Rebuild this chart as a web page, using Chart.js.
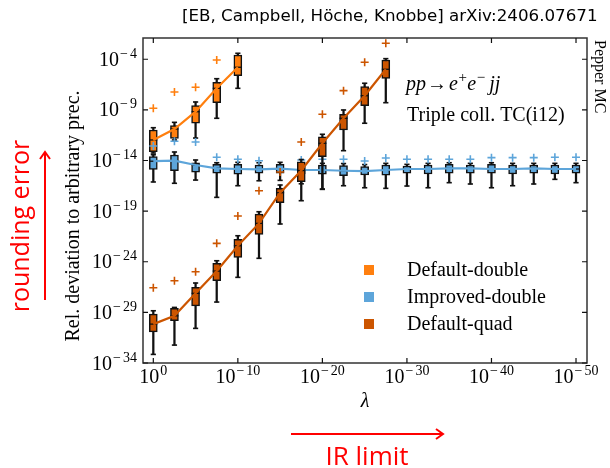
<!DOCTYPE html>
<html>
<head>
<meta charset="utf-8">
<script src="https://cdn.jsdelivr.net/npm/chart.js@4.4.0/dist/chart.umd.min.js"></script>
<style>
  html, body { margin: 0; padding: 0; background: #fff; }
</style>
</head>
<body>
<canvas id="c" width="610" height="468"></canvas>
<script>
// x positions: -log10(lambda), lambda = 10^0 ... 10^-50
const lambdaExp = [0, 2.5, 5, 7.5, 10, 12.5, 15, 17.5, 20, 22.5, 25, 27.5, 30, 32.5, 35, 37.5, 40, 42.5, 45, 47.5, 50];
const xTicks = [0, 10, 20, 30, 40, 50];
const yTicks = [-4, -9, -14, -19, -24, -29, -34];

const seriesNames = ["Default-double", "Improved-double", "Default-quad"];
const seriesColors = ["#ff7f0e", "#5da5da", "#cc5500"];

// all values are log10 of the relative deviation
const doubleMin = [-13.26, -11.97, -11.78, -9.83, -6.87];
const doubleQ1  = [-13.13, -11.81, -10.32, -8.29, -5.62];
const doubleMed = [-11.97, -10.89, -9.18, -6.87, -4.79];
const doubleQ3  = [-10.99, -10.56, -8.58, -6.27, -3.58];
const doubleMax = [-10.76, -10.23, -8.22, -5.92, -3.41];
const doubleOut = [-8.84, -7.23, -6.77, -4.07, null];

const improvedMin = [-16.12, -16.25, -15.93, -17.64, -16.49, -16.00, -15.96, -16.30, -16.82, -16.49, -16.69, -16.75, -16.52, -16.69, -16.19, -16.32, -16.69, -16.49, -16.32, -15.86, -16.19];
const improvedQ1  = [-14.87, -15.01, -15.14, -15.26, -15.36, -15.26, -15.26, -15.33, -15.36, -15.50, -15.43, -15.46, -15.26, -15.33, -15.26, -15.26, -15.26, -15.33, -15.26, -15.33, -15.26];
const improvedMed = [-14.07, -14.02, -14.44, -14.77, -14.84, -14.87, -14.81, -14.94, -14.94, -15.01, -15.04, -14.94, -14.84, -14.84, -14.77, -14.77, -14.84, -14.84, -14.77, -14.84, -14.84];
const improvedQ3  = [-13.62, -13.46, -14.22, -14.38, -14.38, -14.44, -14.38, -14.44, -14.44, -14.51, -14.61, -14.44, -14.54, -14.44, -14.38, -14.44, -14.38, -14.44, -14.44, -14.44, -14.44];
const improvedMax = [-13.43, -13.16, -13.95, -14.22, -14.18, -14.22, -14.18, -14.25, -14.28, -14.30, -14.40, -14.28, -14.38, -14.28, -14.22, -14.28, -14.22, -14.28, -14.28, -14.28, -14.28];
const improvedOut = [-12.57, -12.10, -12.17, -13.68, -13.88, -14.02, null, -13.95, -13.88, -13.88, -14.05, -13.75, -13.88, -13.88, -13.88, -13.88, -13.72, -13.72, -13.72, -13.68, -13.68];

const quadMin = [-33.15, -32.23, -30.58, -27.98, -25.54, -23.66, -20.27, -17.97, -16.85, -13.03, -10.32, -8.29];
const quadQ1  = [-30.92, -29.83, -28.35, -25.88, -23.57, -21.29, -18.17, -16.09, -13.62, -10.99, -8.58, -5.88];
const quadMed = [-30.16, -29.34, -27.12, -24.92, -22.42, -20.21, -17.18, -14.99, -12.30, -9.83, -7.60, -4.99];
const quadQ3  = [-29.17, -28.60, -26.53, -24.16, -21.79, -19.29, -16.75, -14.12, -11.65, -9.43, -6.71, -4.07];
const quadMax = [-28.84, -28.51, -26.10, -23.90, -21.43, -19.06, -16.42, -13.90, -11.41, -9.01, -6.37, -3.94];
const quadOut = [-26.57, -25.88, -24.99, -22.18, -19.48, -16.98, -15.14, -12.17, -9.43, -7.10, -4.30, -2.42];

// one box plot series -> several chart.js datasets (lower order is drawn on top)
function boxSeries(color, base, mn, q1, med, q3, mx, out) {
  const pts = arr => arr.map((v, i) => ({ x: lambdaExp[i], y: v }));
  const caps = [];
  mn.forEach((v, i) => { caps.push({ x: lambdaExp[i], y: v }); caps.push({ x: lambdaExp[i], y: mx[i] }); });
  return [
    { type: 'bar', order: base + 6, grouped: false, data: mn.map((v, i) => ({ x: lambdaExp[i], y: [v, mx[i]] })),
      backgroundColor: '#111', borderWidth: 0, barThickness: 1.6, maxBarThickness: 1.6 },
    { type: 'bar', order: base + 5, grouped: false, data: q1.map((v, i) => ({ x: lambdaExp[i], y: [v, q3[i]] })),
      backgroundColor: color, borderColor: '#111', borderWidth: 1.5, borderSkipped: false, barThickness: 8, maxBarThickness: 8 },
    { type: 'line', order: base + 4, data: pts(med), showLine: false, pointStyle: 'line', pointRadius: 4,
      pointBorderColor: '#111', pointBorderWidth: 1.3 },
    { type: 'line', order: base + 3, data: caps, showLine: false, pointStyle: 'line', pointRadius: 2.6,
      pointBorderColor: '#111', pointBorderWidth: 1.6 },
    { type: 'line', order: base + 2, data: pts(med), borderColor: color, borderWidth: 2.2, pointRadius: 0, tension: 0 },
    { type: 'line', order: base + 1, data: pts(out).filter(p => p.y !== null), showLine: false, pointStyle: 'cross',
      pointRadius: 4, pointBorderColor: color, pointBorderWidth: 1.6 }
  ];
}

const datasets = [
  ...boxSeries(seriesColors[0], 20, doubleMin, doubleQ1, doubleMed, doubleQ3, doubleMax, doubleOut),
  ...boxSeries(seriesColors[1], 10, improvedMin, improvedQ1, improvedMed, improvedQ3, improvedMax, improvedOut),
  ...boxSeries(seriesColors[2], 0, quadMin, quadQ1, quadMed, quadQ3, quadMax, quadOut)
];

const SERIF = '"Liberation Serif", "DejaVu Serif", serif';

function pow10(ctx, exp, x, yBase, align) {
  const supTxt = exp === 0 ? '0' : String(Math.abs(exp));
  ctx.textAlign = 'left';
  ctx.textBaseline = 'alphabetic';
  ctx.font = '20px ' + SERIF;
  const wb = ctx.measureText('10').width;
  ctx.font = '14px ' + SERIF;
  const wm = exp < 0 ? ctx.measureText('\u2212').width + 2 : 0;
  const wd = ctx.measureText(supTxt).width;
  const total = wb + 1 + wm + wd;
  const x0 = align === 'right' ? x - total : x - total / 2;
  ctx.font = '20px ' + SERIF;
  ctx.fillText('10', x0, yBase);
  ctx.font = '14px ' + SERIF;
  if (exp < 0) ctx.fillText('\u2212', x0 + wb + 1, yBase - 8);
  ctx.fillText(supTxt, x0 + wb + 1 + wm, yBase - 8);
}

const decor = {
  id: 'decor',
  afterDraw(chart) {
    const { ctx, chartArea: a, scales: { x, y } } = chart;
    ctx.save();
    ctx.fillStyle = '#000';

    // frame
    ctx.strokeStyle = '#333';
    ctx.lineWidth = 1.5;
    ctx.strokeRect(a.left, a.top, a.right - a.left, a.bottom - a.top);

    // inward ticks
    ctx.strokeStyle = '#111';
    ctx.lineWidth = 1.2;
    ctx.beginPath();
    xTicks.forEach(v => {
      const px = x.getPixelForValue(v);
      ctx.moveTo(px, a.bottom); ctx.lineTo(px, a.bottom - 5);
      ctx.moveTo(px, a.top); ctx.lineTo(px, a.top + 5);
    });
    yTicks.forEach(v => {
      const py = y.getPixelForValue(v);
      ctx.moveTo(a.left, py); ctx.lineTo(a.left + 5, py);
      ctx.moveTo(a.right, py); ctx.lineTo(a.right - 5, py);
    });
    ctx.stroke();

    // tick labels
    xTicks.forEach(v => pow10(ctx, -v, x.getPixelForValue(v), a.bottom + 20, 'center'));
    yTicks.forEach(v => pow10(ctx, v, a.left - 6, y.getPixelForValue(v) + 6.5, 'right'));

    // axis titles
    ctx.font = 'italic 20px ' + SERIF;
    ctx.textAlign = 'center';
    ctx.fillText('\u03bb', (a.left + a.right) / 2, 407);

    ctx.save();
    ctx.translate(79, 216);
    ctx.rotate(-Math.PI / 2);
    ctx.font = '20px ' + SERIF;
    ctx.textAlign = 'center';
    ctx.fillText('Rel. deviation to arbitrary prec.', 0, 0);
    ctx.restore();

    // title
    ctx.font = '16px "DejaVu Sans", sans-serif';
    ctx.textAlign = 'left';
    const title = '[EB, Campbell, H\u00f6che, Knobbe] arXiv:2406.07671';
    const tw = ctx.measureText(title).width;
    ctx.font = (16 * 416 / tw).toFixed(2) + 'px "DejaVu Sans", sans-serif';
    ctx.fillText(title, 182, 21);

    // Pepper MC
    ctx.save();
    ctx.translate(595, 40);
    ctx.rotate(Math.PI / 2);
    ctx.font = '16px ' + SERIF;
    ctx.textAlign = 'left';
    ctx.fillText('Pepper MC', 0, 0);
    ctx.restore();

    // process label
    let cx = 406;
    const part = (txt, font, dy, gap) => { ctx.font = font; ctx.fillText(txt, cx, 89.5 + dy); cx += ctx.measureText(txt).width + (gap || 0); };
    ctx.textAlign = 'left';
    part('pp', 'italic 20px ' + SERIF, 0, 1);
    part('\u2192', '20px ' + SERIF, 0, 2);
    part('e', 'italic 20px ' + SERIF, 0, 0.5);
    part('+', '15px ' + SERIF, -8, 0.5);
    part('e', 'italic 20px ' + SERIF, 0, 0.5);
    part('\u2212', '15px ' + SERIF, -8, 4);
    part('jj', 'italic 20px ' + SERIF, 0, 0);
    ctx.font = '20px ' + SERIF;
    ctx.fillText('Triple coll. TC(i12)', 407, 120.5);

    // legend
    const rows = [270, 297, 324];
    seriesNames.forEach((name, i) => {
      ctx.fillStyle = seriesColors[i];
      ctx.fillRect(364, rows[i] - 5, 10, 10);
      ctx.fillStyle = '#000';
      ctx.font = '20px ' + SERIF;
      ctx.fillText(name, 407, rows[i] + 6);
    });

    // red annotations
    ctx.strokeStyle = '#ff0000';
    ctx.fillStyle = '#ff0000';
    ctx.lineWidth = 2;
    ctx.beginPath();
    ctx.moveTo(45, 300); ctx.lineTo(45, 152);
    ctx.moveTo(40, 159); ctx.lineTo(45, 152); ctx.lineTo(50, 159);
    ctx.moveTo(291, 434); ctx.lineTo(443, 434);
    ctx.moveTo(436, 429); ctx.lineTo(443, 434); ctx.lineTo(436, 439);
    ctx.stroke();

    ctx.font = '26px "Open Sans", sans-serif';
    ctx.textAlign = 'center';
    ctx.fillText('IR limit', 367, 465);
    ctx.save();
    ctx.translate(29, 226);
    ctx.rotate(-Math.PI / 2);
    ctx.font = '25px "Open Sans", sans-serif';
    ctx.fillText('rounding error', 0, 0);
    ctx.restore();

    ctx.restore();
  }
};

new Chart(document.getElementById('c'), {
  type: 'bar',
  data: { datasets },
  options: {
    responsive: false,
    animation: false,
    devicePixelRatio: 1,
    layout: { padding: { top: 38, right: 23, left: 0, bottom: 0 } },
    plugins: { legend: { display: false }, tooltip: { enabled: false } },
    scales: {
      x: {
        type: 'linear', min: -1.22, max: 51.3, offset: false,
        grid: { display: false }, border: { display: false }, ticks: { display: false },
        afterFit: s => { s.height = 105; }
      },
      y: {
        type: 'linear', min: -34, max: -1.9,
        grid: { display: false }, border: { display: false }, ticks: { display: false },
        afterFit: s => { s.width = 143; }
      }
    }
  },
  plugins: [decor]
});
</script>
</body>
</html>
